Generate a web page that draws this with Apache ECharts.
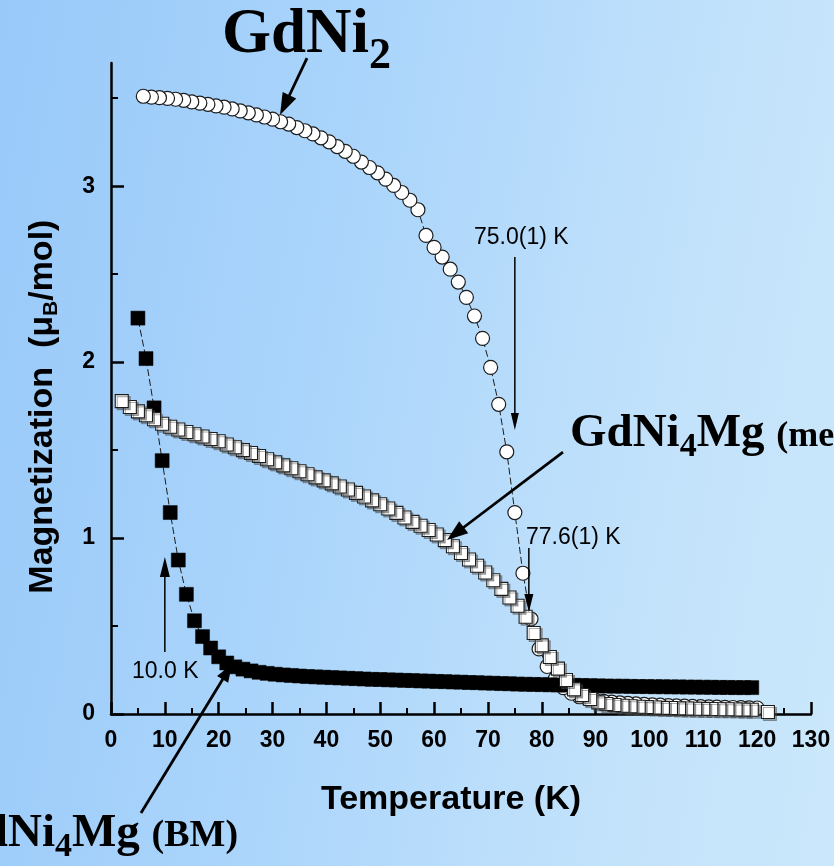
<!DOCTYPE html>
<html>
<head>
<meta charset="utf-8">
<title>Magnetization vs Temperature</title>
<script src="https://cdn.jsdelivr.net/npm/echarts@6/dist/echarts.min.js"></script>
<style>
  html, body { margin: 0; padding: 0; }
  #chart {
    width: 834px; height: 866px;
    background: linear-gradient(100deg, #98c9f9 0%, #abd5fb 40%, #c2e2fb 75%, #cbe8fb 100%);
  }
</style>
</head>
<body>
<div id="chart"></div>
<script>
// GdNi2 (open circles)
const gdni2T = [6, 7.5, 9, 10.5, 12, 13.5, 15, 16.5, 18, 19.5, 21, 22.5, 24, 25.5, 27, 28.5, 30, 31.5, 33, 34.5,
  36, 37.5, 39, 40.5, 42, 43.5, 45, 46.5, 48, 49.5, 51, 52.5, 54, 55.5, 57, 58.5, 60, 61.5, 63, 64.5,
  66, 67.5, 69, 70.5, 72, 73.5, 75, 76.5, 78, 79.5, 81, 82.5, 84, 85.5, 87, 88.5, 90, 91.5, 93, 94.5,
  96, 97.5, 99, 100.5, 102, 103.5, 105, 106.5, 108, 109.5, 111, 112.5, 114, 115.5, 117, 118.5, 120];
const gdni2M = [3.511, 3.506, 3.503, 3.499, 3.494, 3.488, 3.479, 3.472, 3.465, 3.456, 3.449, 3.439, 3.428, 3.417, 3.405, 3.393, 3.381, 3.366, 3.353, 3.333,
  3.315, 3.297, 3.275, 3.252, 3.225, 3.198, 3.170, 3.137, 3.106, 3.076, 3.040, 3.004, 2.964, 2.920, 2.866, 2.720, 2.652, 2.597, 2.528, 2.455,
  2.368, 2.262, 2.135, 1.970, 1.760, 1.490, 1.145, 0.800, 0.540, 0.370, 0.270, 0.200, 0.150, 0.118, 0.098, 0.086, 0.078, 0.072, 0.067, 0.063,
  0.060, 0.057, 0.055, 0.052, 0.050, 0.048, 0.046, 0.045, 0.043, 0.042, 0.040, 0.039, 0.038, 0.037, 0.036, 0.035, 0.034];

// GdNi4Mg ball-milled (filled squares)
const bmT = [5, 6.5, 8, 9.5, 11, 12.5, 14, 15.5, 17, 18.5, 20, 21.5, 23, 24.5, 26, 27.5, 29, 30.5, 32, 33.5,
  35, 36.5, 38, 39.5, 41, 42.5, 44, 45.5, 47, 48.5, 50, 51.5, 53, 54.5, 56, 57.5, 59, 60.5, 62, 63.5,
  65, 66.5, 68, 69.5, 71, 72.5, 74, 75.5, 77, 78.5, 80, 81.5, 83, 84.5, 86, 87.5, 89, 90.5, 92, 93.5,
  95, 96.5, 98, 99.5, 101, 102.5, 104, 105.5, 107, 108.5, 110, 111.5, 113, 114.5, 116, 117.5, 119];
const bmM = [2.25, 2.02, 1.74, 1.44, 1.145, 0.875, 0.68, 0.53, 0.44, 0.375, 0.325, 0.29, 0.268, 0.255, 0.245, 0.237, 0.231, 0.226, 0.222, 0.219,
  0.216, 0.213, 0.211, 0.209, 0.207, 0.205, 0.203, 0.201, 0.199, 0.197, 0.196, 0.194, 0.193, 0.191, 0.190, 0.188, 0.187, 0.185, 0.184, 0.182,
  0.181, 0.179, 0.178, 0.176, 0.175, 0.173, 0.172, 0.170, 0.169, 0.168, 0.167, 0.166, 0.165, 0.164, 0.163, 0.162, 0.161, 0.160, 0.159, 0.158,
  0.158, 0.157, 0.156, 0.156, 0.155, 0.155, 0.154, 0.154, 0.153, 0.153, 0.152, 0.152, 0.151, 0.151, 0.150, 0.150, 0.150];

// GdNi4Mg melt (open squares)
const meltT = [2, 3.5, 5, 6.5, 8, 9.5, 11, 12.5, 14, 15.5, 17, 18.5, 20, 21.5, 23, 24.5, 26, 27.5, 29, 30.5,
  32, 33.5, 35, 36.5, 38, 39.5, 41, 42.5, 44, 45.5, 47, 48.5, 50, 51.5, 53, 54.5, 56, 57.5, 59, 60.5,
  62, 63.5, 65, 66.5, 68, 69.5, 71, 72.5, 74, 75.5, 77, 78.5, 80, 81.5, 83, 84.5, 86, 87.5, 89, 90.5,
  92, 93.5, 95, 96.5, 98, 99.5, 101, 102.5, 104, 105.5, 107, 108.5, 110, 111.5, 113, 114.5, 116, 117.5, 119, 122];
const meltM = [1.778, 1.745, 1.720, 1.698, 1.675, 1.650, 1.633, 1.617, 1.603, 1.590, 1.577, 1.563, 1.550, 1.532, 1.516, 1.500, 1.483, 1.466, 1.448, 1.430,
  1.413, 1.397, 1.380, 1.363, 1.345, 1.328, 1.311, 1.293, 1.276, 1.257, 1.236, 1.214, 1.192, 1.168, 1.143, 1.117, 1.092, 1.070, 1.046, 1.020,
  0.988, 0.953, 0.915, 0.878, 0.843, 0.804, 0.760, 0.711, 0.662, 0.615, 0.553, 0.460, 0.390, 0.324, 0.258, 0.193, 0.140, 0.108, 0.085, 0.066,
  0.057, 0.051, 0.047, 0.044, 0.041, 0.039, 0.037, 0.035, 0.034, 0.032, 0.031, 0.030, 0.029, 0.028, 0.027, 0.027, 0.026, 0.025, 0.024, 0.011];

// Axis ticks
const yMajorTicks = [0, 1, 2, 3];
const yMinorTicks = [0.5, 1.5, 2.5, 3.5];

const SANS = '"Liberation Sans", Arial, Helvetica, sans-serif';
const SERIF = '"Liberation Serif", "Times New Roman", Times, serif';

const chart = echarts.init(document.getElementById('chart'), null, { renderer: 'canvas' });

// points are drawn from high to low temperature, so lower-T markers sit on top
const pairs = (ts, ms) => ts.map((t, i) => [t, ms[i]]).reverse();

const axisLabelStyle = { color: '#000', fontFamily: SANS, fontWeight: 'bold', fontSize: 23 };

const option = {
  animation: false,
  backgroundColor: 'transparent',
  grid: { left: 111, right: 23, top: 63, bottom: 152, containLabel: false, outerBoundsMode: 'none' },
  xAxis: {
    type: 'value', min: 0, max: 130, interval: 10,
    axisLine: { show: true, onZero: false, lineStyle: { color: '#000', width: 2.5 } },
    axisTick: { show: true, inside: true, length: 12, lineStyle: { color: '#000', width: 2.5 } },
    minorTick: { show: true, splitNumber: 2, length: 6, lineStyle: { color: '#000', width: 2 } },
    axisLabel: Object.assign({ margin: 15, showMinLabel: true, showMaxLabel: true }, axisLabelStyle),
    splitLine: { show: false },
    minorSplitLine: { show: false }
  },
  yAxis: [
    {
      type: 'value', min: 0, max: 3.7, position: 'left',
      axisLine: { show: true, onZero: false, lineStyle: { color: '#000', width: 2.5 } },
      axisTick: { show: true, inside: true, length: 13, customValues: yMajorTicks, lineStyle: { color: '#000', width: 2.5 } },
      axisLabel: Object.assign({ margin: 16, customValues: yMajorTicks }, axisLabelStyle),
      splitLine: { show: false }
    },
    {
      type: 'value', min: 0, max: 3.7, position: 'left', offset: 0,
      axisLine: { show: false },
      axisTick: { show: true, inside: true, length: 7, customValues: yMinorTicks, lineStyle: { color: '#000', width: 2 } },
      axisLabel: { show: false },
      splitLine: { show: false }
    }
  ],
  series: [
    {
      name: 'GdNi2', type: 'line', yAxisIndex: 0,
      data: pairs(gdni2T, gdni2M),
      symbol: 'circle', symbolSize: 14, showSymbol: true,
      itemStyle: { color: '#ffffff', borderColor: '#1c1c1c', borderWidth: 1.2 },
      lineStyle: { color: '#1c1c1c', width: 1, type: [7, 3] },
      emphasis: { disabled: true }, silent: true, z: 2
    },
    {
      name: 'GdNi4Mg (BM)', type: 'line', yAxisIndex: 0,
      data: pairs(bmT, bmM),
      symbol: 'rect', symbolSize: 14, showSymbol: true,
      itemStyle: { color: '#000000', borderColor: '#000000', borderWidth: 0.5 },
      lineStyle: { color: '#1c1c1c', width: 1, type: [7, 3] },
      emphasis: { disabled: true }, silent: true, z: 3
    },
    {
      name: 'GdNi4Mg (melt)', type: 'line', yAxisIndex: 0,
      data: pairs(meltT, meltM),
      symbol: 'rect', symbolSize: 13, showSymbol: true,
      itemStyle: {
        color: '#ffffff', borderColor: '#1c1c1c', borderWidth: 1.1,
        shadowColor: 'rgba(70,70,70,0.45)', shadowOffsetX: 2, shadowOffsetY: 2, shadowBlur: 0
      },
      lineStyle: { color: '#1c1c1c', width: 1, type: [7, 3] },
      emphasis: { disabled: true }, silent: true, z: 4
    }
  ]
};

chart.setOption(option);

// ---- annotations, anchored in axis units (K, muB/mol) ----
const toPx = (t, m) => chart.convertToPixel({ seriesIndex: 0 }, [t, m]);
const measureCtx = document.createElement('canvas').getContext('2d');
const textWidth = (str, font) => { measureCtx.font = font; return measureCtx.measureText(str).width; };
const MID = 0.31; // em-box middle above the alphabetic baseline

function arrow(t0, m0, t1, m1, width, headLen, headHalf) {
  const [x0, y0] = toPx(t0, m0);
  const [x1, y1] = toPx(t1, m1);
  const dx = x1 - x0, dy = y1 - y0, len = Math.hypot(dx, dy);
  const ux = dx / len, uy = dy / len;
  const bx = x1 - ux * headLen, by = y1 - uy * headLen;
  return [
    { type: 'line', silent: true, z: 10,
      shape: { x1: x0, y1: y0, x2: bx + ux * 2, y2: by + uy * 2 },
      style: { stroke: '#000', lineWidth: width } },
    { type: 'polygon', silent: true, z: 10,
      shape: { points: [[x1, y1], [bx - uy * headHalf, by + ux * headHalf], [bx + uy * headHalf, by - ux * headHalf]] },
      style: { fill: '#000' } }
  ];
}

// A line of text made of pieces with their own size and baseline shift (sub-scripts)
function pieces(x, baseline, parts, weight, family) {
  let cx = x;
  return parts.map(([str, size, shift]) => {
    const font = `${weight} ${size}px ${family}`;
    const el = {
      type: 'text', silent: true, z: 10, x: cx, y: baseline + shift - MID * size,
      style: { text: str, font: font, fill: '#000', textAlign: 'left', textVerticalAlign: 'middle' }
    };
    cx += textWidth(str, font);
    return el;
  });
}
function piecesWidth(parts, weight, family) {
  return parts.reduce((s, [str, size]) => s + textWidth(str, `${weight} ${size}px ${family}`), 0);
}

function plainText(t, m, str, size, weight, family, align) {
  const [x, y] = toPx(t, m);
  return { type: 'text', silent: true, z: 10, x: x, y: y,
    style: { text: str, font: `${weight} ${size}px ${family}`, fill: '#000', textAlign: align, textVerticalAlign: 'middle' } };
}

const g = [];

// arrows
g.push(...arrow(36.40, 3.728, 31.39, 3.404, 2.8, 22, 7.5));
g.push(...arrow(75.0, 2.597, 75.0, 1.614, 1.5, 17, 4));
g.push(...arrow(83.94, 1.489, 62.40, 0.989, 2.8, 21, 7.5));
g.push(...arrow(77.6, 0.943, 77.6, 0.580, 1.5, 18, 4.5));
g.push(...arrow(10.0, 0.352, 10.0, 0.892, 1.5, 20, 5));
g.push(...arrow(5.57, -0.5625, 22.47, 0.284, 2.8, 18, 6.5));

// transition temperature labels
g.push(plainText(67.41, 2.705, '75.0(1) K', 23, 'normal', SANS, 'left'));
g.push(plainText(77.07, 1.005, '77.6(1) K', 23, 'normal', SANS, 'left'));
g.push(plainText(3.90, 0.240, '10.0 K', 23, 'normal', SANS, 'left'));

// compound labels
{
  const [x, y] = toPx(20.61, 3.745);
  g.push(...pieces(x, y, [['GdNi', 63, 0], ['2', 44, 15]], 'bold', SERIF));
}
{
  const [x, y] = toPx(85.24, 1.512);
  g.push(...pieces(x, y, [['GdNi', 47, 0], ['4', 34, 10], ['Mg ', 47, 0], ['(melt)', 36, 0]], 'bold', SERIF));
}
{
  const [xN, y] = toPx(-19.13, -0.762);
  const x = xN - textWidth('Gd', `bold 47px ${SERIF}`);
  g.push(...pieces(x, y, [['GdNi', 47, 0], ['4', 34, 10], ['Mg ', 47, 0], ['(BM)', 38, 0]], 'bold', SERIF));
}

// axis titles
g.push(plainText(63.14, -0.489, 'Temperature (K)', 34, 'bold', SANS, 'center'));
{
  const parts = [['Magnetization  (\u03bc', 34, 0], ['B', 21, 5], ['/mol)', 34, 0]];
  const [x, y] = toPx(-10.76, 1.747);
  const w = piecesWidth(parts, 'bold', SANS);
  g.push({ type: 'group', x: x, y: y, rotation: Math.PI / 2, silent: true,
    children: pieces(-w / 2, 0, parts, 'bold', SANS) });
}

chart.setOption({ graphic: { elements: g } });
</script>
</body>
</html>
